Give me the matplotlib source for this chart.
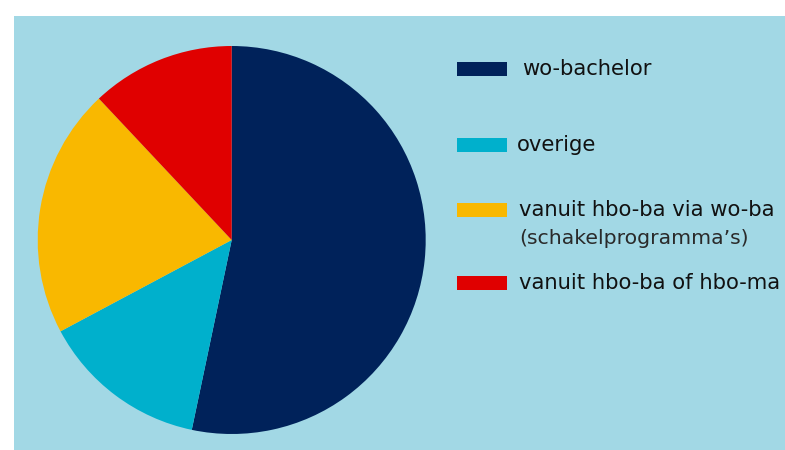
import matplotlib.pyplot as plt
from matplotlib.patches import Rectangle

# slice shares (percent), clockwise from 12 o'clock
labels = ["wo-bachelor", "overige", "vanuit hbo-ba via wo-ba", "vanuit hbo-ba of hbo-ma"]
sublabels = ["", "", "(schakelprogramma’s)", ""]
shares = [53.3, 13.9, 20.8, 12.0]
colors = ["#00225a", "#00b0cc", "#f9b800", "#e00000"]

BG = "#a2d8e5"
W, H = 785, 450

fig = plt.figure(figsize=(W / 100, H / 100), dpi=100, facecolor="white")

# light blue panel
bg = fig.add_axes([14 / W, 0, 1 - 14 / W, 1 - 16 / H])
bg.set_facecolor(BG)
bg.set_xticks([])
bg.set_yticks([])
for s in bg.spines.values():
    s.set_visible(False)

# pie
cx, cy, r = 231.7, H - 240, 194
ax = fig.add_axes([(cx - r) / W, (cy - r) / H, 2 * r / W, 2 * r / H])
ax.pie(shares, colors=colors, startangle=90, counterclock=False, radius=1,
       wedgeprops=dict(linewidth=0))
ax.set_xlim(-1, 1)
ax.set_ylim(-1, 1)
ax.set_aspect("equal")
ax.axis("off")

# legend, drawn by hand
row_y = [69, 145, 210, 283]
text_x = [522, 517, 519, 519]
for lab, sub, col, y, tx in zip(labels, sublabels, colors, row_y, text_x):
    fig.patches.append(Rectangle((457 / W, (H - y - 7) / H), 50 / W, 14 / H,
                                 facecolor=col, edgecolor="none",
                                 transform=fig.transFigure, figure=fig))
    fig.text(tx / W, (H - y) / H, lab, fontsize=15.2, color="#111111",
             va="center", ha="left", family="DejaVu Sans")
    if sub:
        fig.text(tx / W, (H - y - 28) / H, sub, fontsize=14.7, color="#2a2a2a",
                 va="center", ha="left", family="DejaVu Sans")

fig.savefig("out.png", dpi=100, facecolor="white")
